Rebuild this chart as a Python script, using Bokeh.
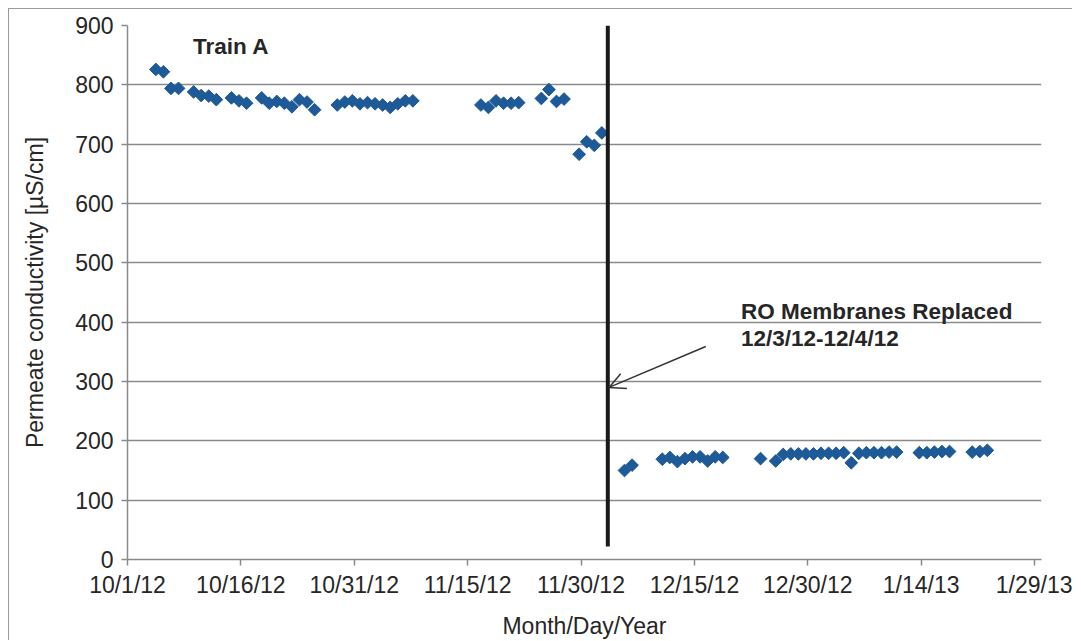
import pandas as pd
from bokeh.plotting import figure
from bokeh.models import ColumnDataSource, FixedTicker, Arrow, OpenHead, Label, Range1d
from bokeh.embed import file_html
from bokeh.resources import INLINE

# ---------------- data ----------------
pre_dates = [
    "2012-10-04", "2012-10-05", "2012-10-06", "2012-10-07", "2012-10-09", "2012-10-10",
    "2012-10-11", "2012-10-12", "2012-10-14", "2012-10-15", "2012-10-16", "2012-10-18",
    "2012-10-19", "2012-10-20", "2012-10-21", "2012-10-22", "2012-10-23", "2012-10-24",
    "2012-10-25",
    "2012-10-28", "2012-10-29", "2012-10-30", "2012-10-31", "2012-11-01", "2012-11-02",
    "2012-11-03", "2012-11-04", "2012-11-05", "2012-11-06", "2012-11-07",
    "2012-11-16", "2012-11-17", "2012-11-18", "2012-11-19", "2012-11-20", "2012-11-21",
    "2012-11-24", "2012-11-25", "2012-11-26", "2012-11-27",
    "2012-11-29", "2012-11-30", "2012-12-01", "2012-12-02",
]
pre_values = [
    826, 822, 794, 794, 788, 782, 781, 775, 778, 773, 769, 778, 769, 772, 769, 763, 775, 771, 758,
    766, 771, 773, 768, 770, 768, 766, 762, 768, 773, 773,
    766, 762, 773, 769, 769, 770,
    777, 792, 772, 776,
    683, 704, 698, 719,
]
post_dates = [
    "2012-12-05", "2012-12-06",
    "2012-12-10", "2012-12-11", "2012-12-12", "2012-12-13", "2012-12-14", "2012-12-15",
    "2012-12-16", "2012-12-17", "2012-12-18",
    "2012-12-23", "2012-12-25",
    "2012-12-26", "2012-12-27", "2012-12-28", "2012-12-29", "2012-12-30", "2012-12-31",
    "2013-01-01", "2013-01-02", "2013-01-03", "2013-01-04",
    "2013-01-05", "2013-01-06", "2013-01-07", "2013-01-08", "2013-01-09", "2013-01-10",
    "2013-01-13", "2013-01-14", "2013-01-15", "2013-01-16", "2013-01-17",
    "2013-01-20", "2013-01-21", "2013-01-22",
]
post_values = [
    150, 159,
    169, 172, 165, 170, 173, 173, 166, 173, 172,
    170, 166,
    177, 178, 178, 178, 178, 179, 179, 179, 180, 163,
    179, 180, 180, 180, 181, 181,
    180, 180, 181, 182, 182,
    181, 182, 184,
]
sample_time = "18:00"

tick_dates = ["2012-10-01", "2012-10-16", "2012-10-31", "2012-11-15", "2012-11-30",
              "2012-12-15", "2012-12-30", "2013-01-14", "2013-01-29"]
tick_labels = ["10/1/12", "10/16/12", "10/31/12", "11/15/12", "11/30/12",
               "12/15/12", "12/30/12", "1/14/13", "1/29/13"]
y_ticks = [0, 100, 200, 300, 400, 500, 600, 700, 800, 900]

replacement_line_date = "2012-12-03 13:00"


def ms(s):
    return pd.Timestamp(s).timestamp() * 1000.0


dates = [pd.Timestamp(d + " " + sample_time) for d in pre_dates + post_dates]
values = pre_values + post_values
src = ColumnDataSource(dict(x=dates, y=values))

FONT = "Liberation Sans"
TXT = "#262626"
GRID = "#8a8a8a"
BLUE = "#1d5a97"

p = figure(
    width=1064, height=632,
    x_axis_type="datetime",
    x_range=Range1d(ms("2012-10-01"), ms("2013-01-29 22:00")),
    y_range=Range1d(0, 900),
    output_backend="svg", toolbar_location=None,
    min_border_left=118, min_border_right=32, min_border_top=16, min_border_bottom=80,
)
p.styles = {"margin-left": "8px", "margin-top": "8px",
            "border-left": "1px solid #9a9a9a", "border-top": "1px solid #9a9a9a"}
p.outline_line_color = None
p.background_fill_color = "white"

# axes
p.xaxis.ticker = FixedTicker(ticks=[ms(d) for d in tick_dates])
p.xaxis.major_label_overrides = {ms(d): lab for d, lab in zip(tick_dates, tick_labels)}
p.yaxis.ticker = FixedTicker(ticks=y_ticks)
for ax in (p.xaxis[0], p.yaxis[0]):
    ax.axis_line_color = GRID
    ax.axis_line_width = 1.5
    ax.major_tick_line_color = GRID
    ax.major_tick_line_width = 1.5
    ax.major_tick_out = 6
    ax.major_tick_in = 0
    ax.minor_tick_line_color = None
    ax.major_label_text_font = FONT
    ax.major_label_text_font_size = "23px"
    ax.major_label_text_color = TXT
    ax.axis_label_text_font = FONT
    ax.axis_label_text_font_size = "23px"
    ax.axis_label_text_font_style = "normal"
    ax.axis_label_text_color = TXT
p.xaxis.axis_label = "Month/Day/Year"
p.yaxis.axis_label = "Permeate conductivity [µS/cm]"
p.xaxis.major_label_standoff = 6
p.xaxis.axis_label_standoff = 12
p.yaxis.major_label_standoff = 8
p.yaxis.axis_label_standoff = 24

p.xgrid.grid_line_color = None
p.ygrid.ticker = FixedTicker(ticks=y_ticks)
p.ygrid.grid_line_color = GRID
p.ygrid.grid_line_width = 1.5

# data
p.scatter("x", "y", source=src, marker="square", size=9, angle=0.785398,
          fill_color=BLUE, line_color=BLUE, line_width=1)

# replacement line
p.segment(x0=[ms(replacement_line_date)], y0=[22], x1=[ms(replacement_line_date)], y1=[900],
          line_color="#1a1a1a", line_width=4)

# arrow
p.add_layout(Arrow(end=OpenHead(size=16, line_width=1.5, line_color="#333333"),
                   x_start=ms("2012-12-16 12:00"), y_start=359,
                   x_end=ms("2012-12-03 17:00"), y_end=290,
                   line_color="#333333", line_width=1.5))

# text labels
p.add_layout(Label(x=ms("2012-10-09 16:00"), y=886, text="Train A", text_font=FONT,
                   text_font_size="22.5px", text_font_style="bold", text_color=TXT,
                   text_baseline="top"))
p.add_layout(Label(x=ms("2012-12-21 04:00"), y=439, text="RO Membranes Replaced", text_font=FONT,
                   text_font_size="22.5px", text_font_style="bold", text_color=TXT,
                   text_baseline="top"))
p.add_layout(Label(x=ms("2012-12-21 04:00"), y=394, text="12/3/12-12/4/12", text_font=FONT,
                   text_font_size="22.5px", text_font_style="bold", text_color=TXT,
                   text_baseline="top"))

open("out.html", "w").write(file_html(p, INLINE))
